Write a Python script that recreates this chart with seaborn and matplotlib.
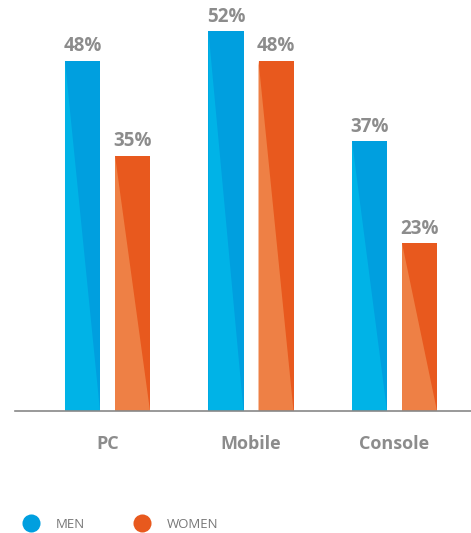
import matplotlib
matplotlib.use("Agg")
import matplotlib.pyplot as plt
from matplotlib.patches import Polygon
from matplotlib.lines import Line2D
import seaborn as sns
import pandas as pd

categories = ["PC", "Mobile", "Console"]
men = [48, 52, 37]
women = [35, 48, 23]
series = ["MEN", "WOMEN"]
dark_colors = ["#009FDF", "#E8591E"]
light_colors = ["#00B3E7", "#EE8045"]

df = pd.DataFrame({
    "platform": categories * 2,
    "gender": ["MEN"] * len(categories) + ["WOMEN"] * len(categories),
    "value": men + women,
})

sns.set_theme(style="white")
plt.rcParams["font.family"] = ["Open Sans", "DejaVu Sans"]

fig = plt.figure(figsize=(4.71, 5.33), dpi=100)
ax = fig.add_axes([15 / 471, 1 - 411 / 533, 1 - 15 / 471, 411 / 533])

sns.barplot(data=df, x="platform", y="value", hue="gender", order=categories,
            hue_order=series, palette=dark_colors, saturation=1, width=0.697,
            gap=0.3, legend=False, ax=ax, linewidth=0, edgecolor="none")

for ci, cont in enumerate(ax.containers):
    for bar in cont:
        x0 = bar.get_x()
        w = bar.get_width()
        h = bar.get_height()
        tri = Polygon([(x0, 0), (x0, h), (x0 + w, 0)], closed=True,
                      facecolor=light_colors[ci], edgecolor="none", zorder=bar.get_zorder() + 0.1)
        ax.add_patch(tri)
    vals = men if ci == 0 else women
    ax.bar_label(cont, labels=[f"{v}%" for v in vals], padding=3,
                 fontsize=13.5, fontweight="bold", color="#8C8C8C")

ax.set_xlim(-0.6446, 2.533)
ax.set_ylim(0, 411 / 7.3)
ax.set_xlabel("")
ax.set_ylabel("")
ax.set_yticks([])
for s in ["top", "right", "left"]:
    ax.spines[s].set_visible(False)
ax.spines["bottom"].set_color("#888888")
ax.spines["bottom"].set_linewidth(1.2)
ax.tick_params(axis="x", length=0, pad=17, labelsize=13, labelcolor="#8C8C8C")
for t in ax.get_xticklabels():
    t.set_fontweight("bold")

handles = [Line2D([], [], marker="o", linestyle="none", markersize=13,
                  markerfacecolor=c, markeredgecolor="none") for c in dark_colors]
fig.legend(handles, series, loc="center left", bbox_to_anchor=(13 / 471, 1 - 524 / 533),
           ncol=2, frameon=False, handletextpad=1.35, columnspacing=3.85,
           prop={"size": 9.5}, labelcolor="#777777", handlelength=1.0)

fig.savefig("out.png", dpi=100)
